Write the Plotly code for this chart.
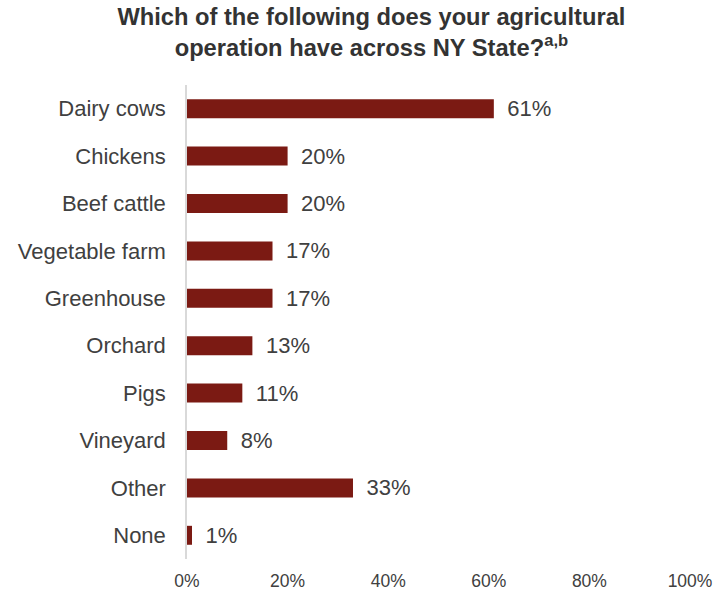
import plotly.graph_objects as go

categories = ["Dairy cows", "Chickens", "Beef cattle", "Vegetable farm", "Greenhouse",
              "Orchard", "Pigs", "Vineyard", "Other", "None"]
values = [61, 20, 20, 17, 17, 13, 11, 8, 33, 1]
tick_vals = [0, 20, 40, 60, 80, 100]
tick_text = ["0%", "20%", "40%", "60%", "80%", "100%"]

FONT = "Liberation Sans, Arial"

fig = go.Figure(go.Bar(
    y=categories, x=values, orientation="h",
    marker=dict(color="#7B1A13", line=dict(width=0)),
    width=0.4,
    text=[f"\u2009\u00a0{v}%" for v in values], textposition="outside",
    constraintext="none",
    textfont=dict(size=22, color="#404040", family=FONT),
    cliponaxis=False,
    hoverinfo="skip",
))

fig.update_layout(
    width=717, height=592,
    margin=dict(l=187, r=27, t=85, b=33),
    paper_bgcolor="white", plot_bgcolor="white",
    font=dict(family=FONT, color="#404040"),
    title=dict(
        text="<b>Which of the following does your agricultural<br>operation have across NY State?<sup>a,b</sup></b>",
        x=0.518, xanchor="center", xref="container",
        y=0.958, yanchor="top", yref="container",
        font=dict(size=23.7, color="#333333", family=FONT),
    ),
    xaxis=dict(range=[0, 100], tickvals=tick_vals, ticktext=tick_text,
               showgrid=False, zeroline=False, showline=False, automargin=False,
               tickfont=dict(size=17.5, color="#404040"), ticks="", ticklabelstandoff=9),
    yaxis=dict(autorange="reversed", showgrid=False, zeroline=False, automargin=False,
               showline=True, linecolor="#D9D9D9", linewidth=1.5,
               tickfont=dict(size=22, color="#404040"), ticks="", ticklabelstandoff=15),
    showlegend=False,
)

fig.write_html("out.html", config={"displayModeBar": False},
               post_script="document.body.style.margin='0';")
